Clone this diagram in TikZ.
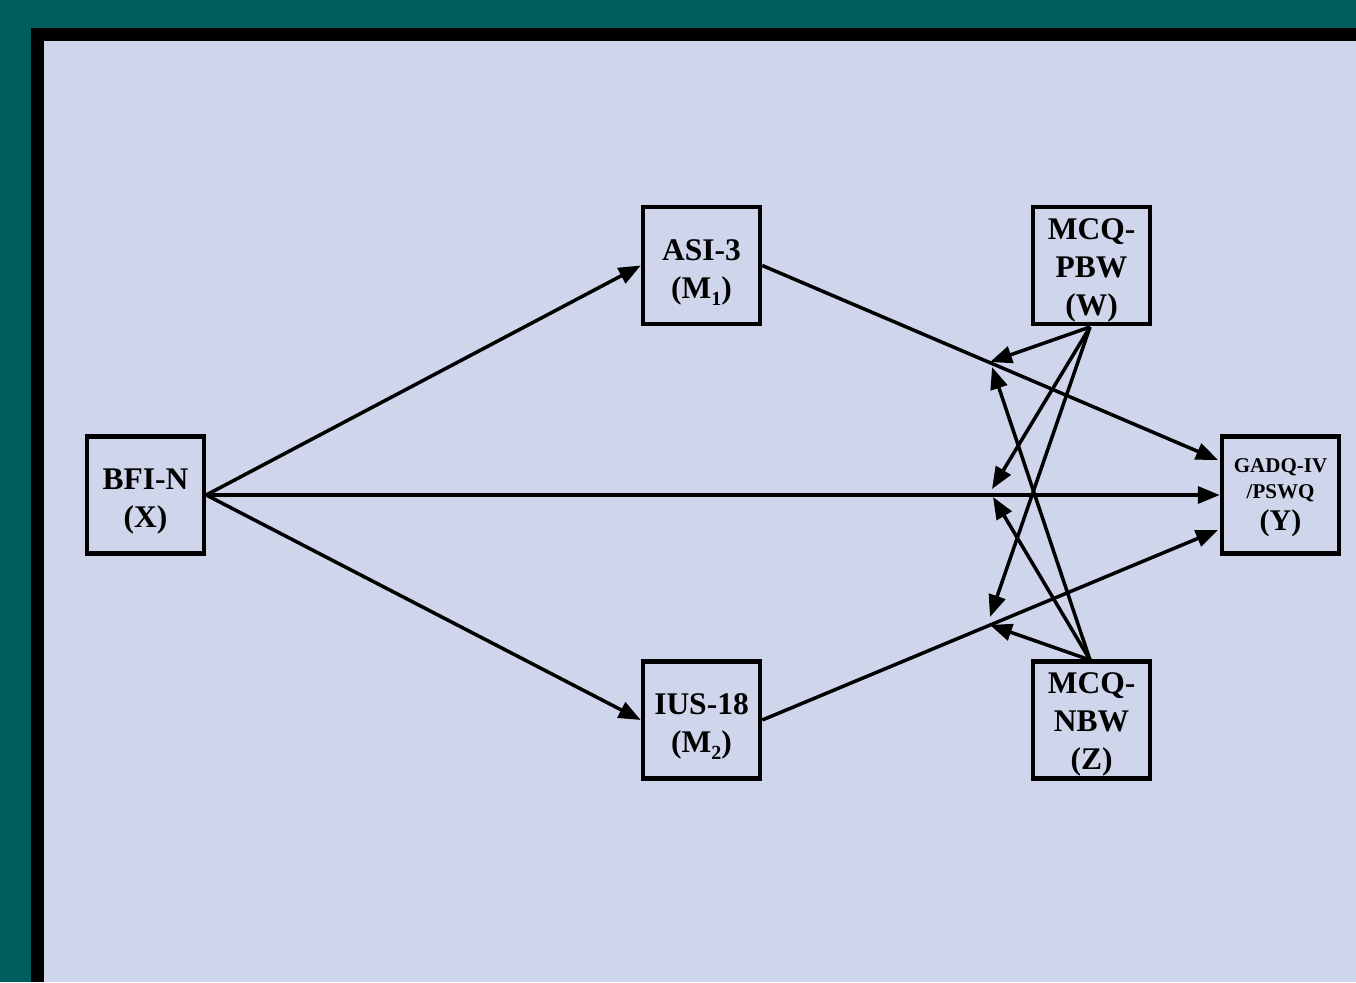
\documentclass[tikz,border=0pt]{standalone}
\usepackage{fontspec}
\setmainfont{Liberation Serif}
\usetikzlibrary{arrows.meta}
\definecolor{teal0}{HTML}{005E5E}
\definecolor{lav}{HTML}{CFD5EA}
\newcommand{\subdown}[1]{\raisebox{-7pt}[0pt][0pt]{\fontsize{20}{20}\selectfont #1}}
\newcommand{\toppad}{\rule{0pt}{34pt}}
\newcommand{\toppadb}{\rule{0pt}{30pt}}
\tikzset{
  boxbase/.style={draw=black,line width=4.5pt,minimum width=117pt,minimum height=117pt,inner sep=0pt,align=center},
  box/.style={boxbase,font=\fontsize{31.5}{38}\selectfont\bfseries},
  ybox/.style={boxbase,font=\fontsize{21}{26}\selectfont\bfseries},
  arr/.style={line width=3.5pt,-{Triangle[length=22pt,width=17pt]}},
}
\begin{document}
\begin{tikzpicture}[x=1pt,y=-1pt]
\fill[teal0] (0,0) rectangle (1356,982);
\fill[black] (31,28) rectangle (1356,982);
\fill[lav] (44,41) rectangle (1356,982);
\useasboundingbox (0,0) rectangle (1356,982);

\node[box] (X) at (145.5,495) {\toppad BFI-N\\(X)};
\node[box] (M1) at (701.5,265.5) {\toppad ASI-3\\(M\subdown{1})};
\node[box] (M2) at (701.5,720) {\toppad IUS-18\\(M\subdown{2})};
\node[box] (W) at (1091.5,265.5) {\toppadb MCQ-\\PBW\\(W)};
\node[box] (Z) at (1091.5,720) {\toppadb MCQ-\\NBW\\(Z)};
\node[ybox] (Y) at (1280.5,495) {\rule{0pt}{20pt}GADQ-IV\\/PSWQ\\[6pt]{\fontsize{30}{30}\selectfont (Y)}};

\coordinate (w1) at (990,362);
\coordinate (w2) at (992,489);
\coordinate (w3) at (990,617);
\coordinate (z1) at (992,367);
\coordinate (z2) at (993,497);
\coordinate (z3) at (990,625);
\coordinate (Ya) at (1218,460);
\coordinate (Yc) at (1218,530);
\coordinate (Wb) at (1090,327);
\coordinate (Zt) at (1090,660);

\draw[arr] (X.east) -- (M1.west);
\draw[arr] (X.east) -- (M2.west);
\draw[arr] (X.east) -- (Y.west);
\draw[arr] (M1.east) -- (Ya);
\draw[arr] (M2.east) -- (Yc);
\draw[arr] (Wb) -- (w1);
\draw[arr] (Wb) -- (w2);
\draw[arr] (Wb) -- (w3);
\draw[arr] (Zt) -- (z1);
\draw[arr] (Zt) -- (z2);
\draw[arr] (Zt) -- (z3);
\end{tikzpicture}
\end{document}
